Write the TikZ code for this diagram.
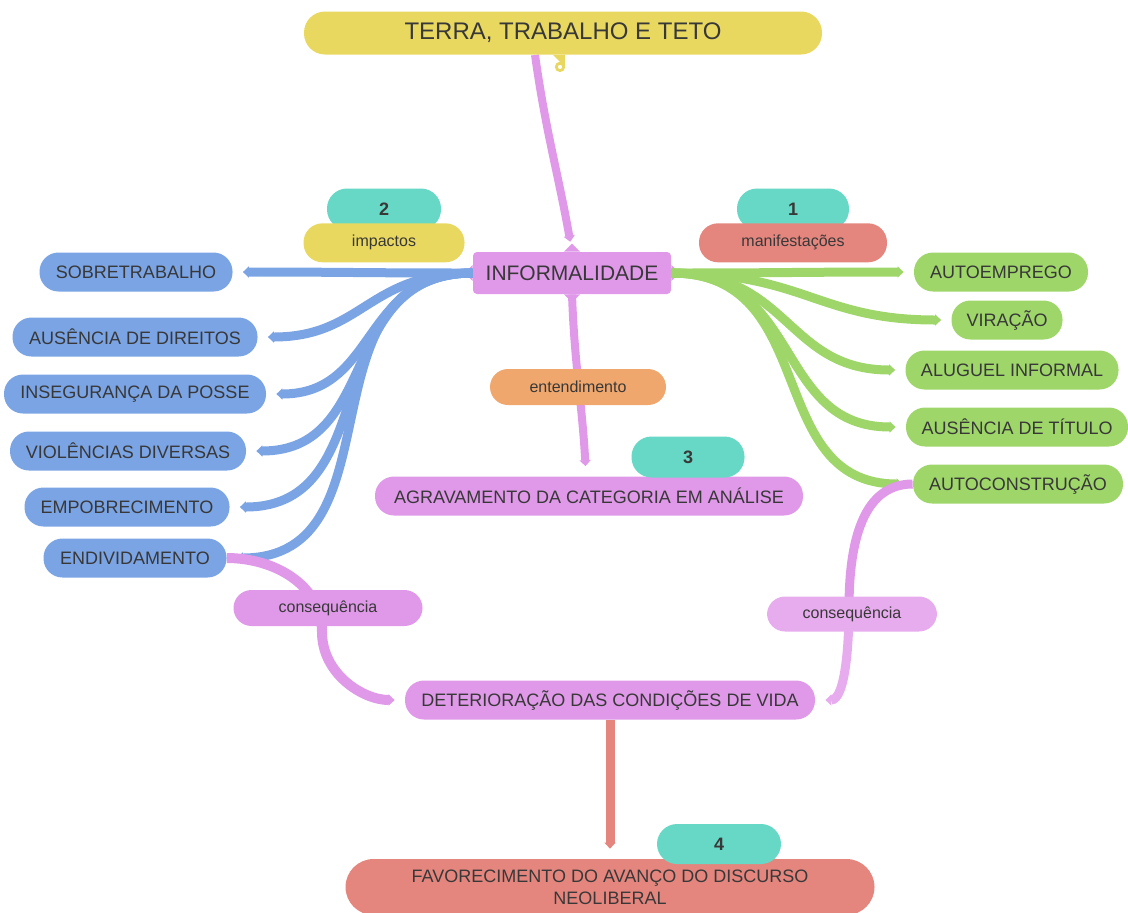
\documentclass[tikz,border=0pt]{standalone}
\usepackage{fontspec}
\setmainfont{Liberation Sans}
\usetikzlibrary{arrows.meta,positioning,backgrounds}
\definecolor{amarelo}{RGB}{233,216,95}
\definecolor{turquesa}{RGB}{103,216,197}
\definecolor{salmao}{RGB}{229,134,126}
\definecolor{verde}{RGB}{158,214,106}
\definecolor{azul}{RGB}{123,164,228}
\definecolor{rosa}{RGB}{223,153,232}
\definecolor{rosaclaro}{RGB}{231,172,237}
\definecolor{laranja}{RGB}{239,167,110}
\tikzset{
  mapa/.style={x=0.5pt,y=0.5pt},
  caixa/.style={rectangle,rounded corners=9.5pt,minimum height=19.5pt,inner sep=1pt,
    text=black!78,font=\fontsize{9}{11}\selectfont},
  caixaazul/.style={caixa,fill=azul},
  caixaverde/.style={caixa,fill=verde},
  rotulo/.style={caixa,rounded corners=9pt,minimum height=18pt,font=\fontsize{8}{10}\selectfont},
  numero/.style={caixa,fill=turquesa,rounded corners=10pt,minimum height=20.5pt,
    font=\fontsize{9}{11}\selectfont\bfseries},
  ramo/.style={line width=4.5pt,shorten >=5pt,-{Triangle[length=3pt,width=5.5pt]}}
}
\begin{document}
\begin{tikzpicture}[mapa]
\useasboundingbox (0,0) rectangle (1128,-912);
\node[caixa,fill=amarelo,minimum width=259pt,minimum height=21.5pt,rounded corners=10.5pt,
  font=\fontsize{12}{14}\selectfont] (terra) at (563,-33) {TERRA, TRABALHO E TETO};
\node[caixa,fill=rosa,minimum width=99pt,minimum height=21pt,rounded corners=2pt,
  font=\fontsize{10.5}{12}\selectfont] (info) at (572,-273) {INFORMALIDADE};
\node[numero,minimum width=57pt] (n2) at (384,-209) {2};
\node[rotulo,fill=amarelo,minimum width=80.5pt,minimum height=19.5pt,rounded corners=9.5pt,
  below=-3.5pt of n2] (imp) {impactos};
\node[numero,minimum width=56pt] (n1) at (793,-209) {1};
\node[rotulo,fill=salmao,minimum width=94pt,minimum height=19.5pt,rounded corners=9.5pt,
  below=-3.5pt of n1] (manif) {manifestações};
\node[caixaazul,minimum width=96.5pt] (sobre) at (136,-272) {SOBRETRABALHO};
\node[caixaazul,minimum width=122.5pt] (direitos) at (135,-337) {AUSÊNCIA DE DIREITOS};
\node[caixaazul,minimum width=131pt] (posse) at (135,-394) {INSEGURANÇA DA POSSE};
\node[caixaazul,minimum width=118pt] (violencias) at (128,-451) {VIOLÊNCIAS DIVERSAS};
\node[caixaazul,minimum width=102.5pt] (empob) at (127,-507) {EMPOBRECIMENTO};
\node[caixaazul,minimum width=91.5pt] (endiv) at (135,-558) {ENDIVIDAMENTO};
\node[caixaverde,minimum width=87pt] (autoemp) at (1001,-272) {AUTOEMPREGO};
\node[caixaverde,minimum width=55.5pt] (viracao) at (1007,-320) {VIRAÇÃO};
\node[caixaverde,minimum width=106.5pt] (aluguel) at (1012,-370) {ALUGUEL INFORMAL};
\node[caixaverde,minimum width=111pt] (titulo) at (1017,-427) {AUSÊNCIA DE TÍTULO};
\node[caixaverde,minimum width=105pt] (autocons) at (1018,-484) {AUTOCONSTRUÇÃO};
\node[caixa,fill=rosa,minimum width=214pt] (agrav) at (589,-496) {AGRAVAMENTO DA CATEGORIA EM ANÁLISE};
\node[numero,minimum width=56.5pt] (n3) at (688,-457) {3};
\node[caixa,fill=rosa,minimum width=205pt] (deter) at (610,-700) {DETERIORAÇÃO DAS CONDIÇÕES DE VIDA};
\node[caixa,fill=salmao,minimum width=264.5pt,minimum height=28pt,rounded corners=14pt,
  align=center] (favor) at (610,-887) {FAVORECIMENTO DO AVANÇO DO DISCURSO\\NEOLIBERAL};
\node[numero,minimum width=62pt,minimum height=20pt] (n4) at (719,-844) {4};
\node[rotulo,fill=laranja,minimum width=88pt] (entend) at (578,-387) {entendimento};
\node[rotulo,fill=rosa,minimum width=94.5pt] (consE) at (328,-608) {consequência};
\node[rotulo,fill=rosaclaro,minimum width=85pt,minimum height=17.5pt] (consD) at (852,-614) {consequência};
\coordinate (meioE) at (322,-632);
\coordinate (meioD) at (849,-608);
\begin{scope}[on background layer]
\foreach \lado/\ang in {north/90,south/270,west/180,east/0}
  \fill[rosa] (info.\lado) ++(\ang+90:4pt) -- ++(\ang-45:5.66pt) -- ++(\ang-135:5.66pt) -- cycle;
\fill[amarelo] ([xshift=-5pt]terra.south) -- ([xshift=1pt,yshift=-6pt]terra.south) -- ([xshift=1pt]terra.south) -- cycle;
\fill[amarelo,even odd rule] ([xshift=-1.5pt,yshift=-6pt]terra.south) circle[radius=2.6pt] circle[radius=1.1pt];
\draw[ramo,rosa,line width=4pt] ([xshift=-14pt]terra.south) to[out=-82,in=100] (info.north);
\draw[ramo,rosa,line width=4pt] (info.south) to[out=-88,in=93] ([xshift=-1.5pt]agrav.north);
\foreach \alvo in {sobre,direitos,posse,violencias,empob,endiv}
  \draw[ramo,azul] (info.west) to[out=180,in=0,looseness=1.2] (\alvo.east);
\foreach \alvo in {autoemp,viracao,aluguel,titulo,autocons}
  \draw[ramo,verde] (info.east) to[out=0,in=180,looseness=1.2] (\alvo.west);
\draw[ramo,rosa,line width=5pt] (endiv.east) to[out=0,in=90] (meioE) to[out=-90,in=180] (deter.west);
\draw[rosa,line width=4.5pt] (autocons.west) to[out=180,in=90] (meioD);
\draw[ramo,rosaclaro] (meioD) to[out=-90,in=0,looseness=0.8] (deter.east);
\draw[ramo,salmao] (deter.south) -- (favor.north);
\end{scope}
\end{tikzpicture}
\end{document}
